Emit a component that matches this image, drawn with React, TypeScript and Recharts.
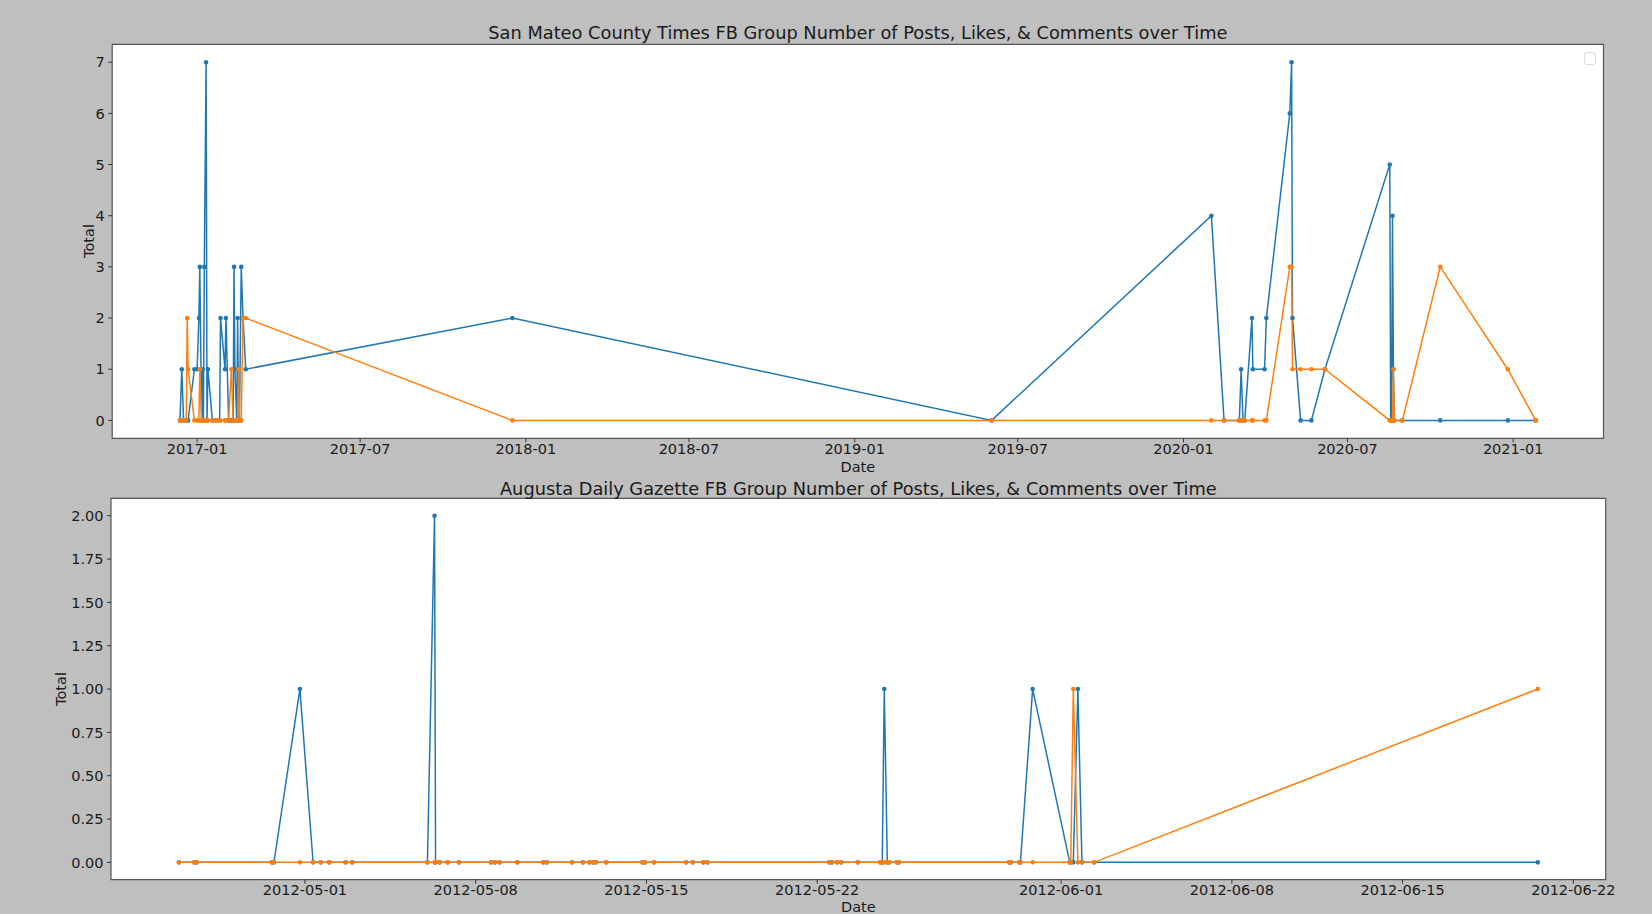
import React from "react";
import { LineChart, Line, XAxis, YAxis, ReferenceArea, Legend } from "recharts";

// San Mateo County Times (top panel)
const sanMateoDates = [
  "2016-12-13", "2016-12-15", "2016-12-17", "2016-12-20", "2016-12-21", "2016-12-22",
  "2016-12-29", "2017-01-01", "2017-01-03", "2017-01-04", "2017-01-06", "2017-01-07",
  "2017-01-08", "2017-01-09", "2017-01-11", "2017-01-12", "2017-01-13", "2017-01-18",
  "2017-01-22", "2017-01-26", "2017-01-27", "2017-02-01", "2017-02-02", "2017-02-05",
  "2017-02-08", "2017-02-10", "2017-02-11", "2017-02-12", "2017-02-14", "2017-02-15",
  "2017-02-16", "2017-02-17", "2017-02-19", "2017-02-21", "2017-02-24", "2017-12-17",
  "2019-06-02", "2020-02-01", "2020-02-15", "2020-03-03", "2020-03-05", "2020-03-07",
  "2020-03-09", "2020-03-17", "2020-03-18", "2020-03-31", "2020-04-02", "2020-04-28",
  "2020-04-30", "2020-05-01", "2020-05-10", "2020-05-22", "2020-06-06", "2020-08-17",
  "2020-08-18", "2020-08-19", "2020-08-20", "2020-08-21", "2020-08-22", "2020-08-31",
  "2020-10-12", "2020-12-26", "2021-01-26",
];
const sanMateoBlue = [
  0, 1, 0, 0, 0, 0,
  1, 1, 2, 3, 0, 1,
  0, 3, 7, 0, 1, 0,
  0, 0, 2, 1, 2, 0,
  0, 0, 3, 1, 0, 2,
  0, 0, 3, 2, 1, 2,
  0, 4, 0, 0, 1, 0,
  0, 2, 1, 1, 2, 6,
  7, 2, 0, 0, 1, 5,
  0, 0, 4, 1, 0, 0,
  0, 0, 0,
];
const sanMateoOrange = [
  0, 0, 0, 0, 2, 1,
  0, 0, 0, 1, 0, 0,
  0, 0, 0, 0, 0, 0,
  0, 0, 0, 0, 0, 0,
  1, 0, 0, 0, 0, 0,
  1, 0, 0, 2, 2, 0,
  0, 0, 0, 0, 0, 0,
  0, 0, 0, 0, 0, 3,
  3, 1, 1, 1, 1, 0,
  0, 0, 0, 1, 0, 0,
  3, 1, 0,
];
const sanMateoXTicks = [
  "2017-01-01", "2017-07-01", "2018-01-01", "2018-07-01", "2019-01-01",
  "2019-07-01", "2020-01-01", "2020-07-01", "2021-01-01",
];
const sanMateoYTicks = [0, 1, 2, 3, 4, 5, 6, 7];

// Augusta Daily Gazette (bottom panel)
const augustaDates = [
  "2012-04-25T20:00", "2012-04-26T11:00", "2012-04-26T13:30", "2012-04-29T15:30",
  "2012-04-29T17:30", "2012-04-30T19:00", "2012-05-01T08:00", "2012-05-01T15:30",
  "2012-05-02T00:00", "2012-05-02T16:00", "2012-05-02T22:30", "2012-05-06T00:30",
  "2012-05-06T07:30", "2012-05-06T08:30", "2012-05-06T12:30", "2012-05-06T20:30",
  "2012-05-07T07:30", "2012-05-08T15:00", "2012-05-08T19:00", "2012-05-08T23:30",
  "2012-05-09T17:00", "2012-05-10T18:30", "2012-05-10T22:00", "2012-05-11T23:00",
  "2012-05-12T09:30", "2012-05-12T16:00", "2012-05-12T19:30", "2012-05-12T22:00",
  "2012-05-13T08:30", "2012-05-14T20:00", "2012-05-14T22:30", "2012-05-15T07:30",
  "2012-05-16T15:00", "2012-05-16T21:30", "2012-05-17T08:00", "2012-05-17T12:00",
  "2012-05-22T12:00", "2012-05-22T14:30", "2012-05-22T19:30", "2012-05-22T23:30",
  "2012-05-23T16:00", "2012-05-24T14:00", "2012-05-24T16:00", "2012-05-24T18:00",
  "2012-05-24T21:00", "2012-05-24T23:00", "2012-05-25T06:30", "2012-05-25T08:30",
  "2012-05-29T21:00", "2012-05-29T22:30", "2012-05-30T07:00", "2012-05-30T08:00",
  "2012-05-30T20:00", "2012-06-01T08:30", "2012-06-01T09:30", "2012-06-01T12:00",
  "2012-06-01T16:30", "2012-06-01T20:30", "2012-06-02T08:30", "2012-06-20T13:00",
];
const augustaBlue = [
  0, 0, 0, 0,
  0, 1, 0, 0,
  0, 0, 0, 0,
  2, 0, 0, 0,
  0, 0, 0, 0,
  0, 0, 0, 0,
  0, 0, 0, 0,
  0, 0, 0, 0,
  0, 0, 0, 0,
  0, 0, 0, 0,
  0, 0, 0, 1,
  0, 0, 0, 0,
  0, 0, 0, 0,
  1, 0, 0, 0,
  1, 0, 0, 0,
];
const augustaOrange = [
  0, 0, 0, 0,
  0, 0, 0, 0,
  0, 0, 0, 0,
  0, 0, 0, 0,
  0, 0, 0, 0,
  0, 0, 0, 0,
  0, 0, 0, 0,
  0, 0, 0, 0,
  0, 0, 0, 0,
  0, 0, 0, 0,
  0, 0, 0, 0,
  0, 0, 0, 0,
  0, 0, 0, 0,
  0, 0, 0, 1,
  0, 0, 0, 1,
];
const augustaXTicks = [
  "2012-05-01", "2012-05-08", "2012-05-15", "2012-05-22",
  "2012-06-01", "2012-06-08", "2012-06-15", "2012-06-22",
];
const augustaYTicks = [0, 0.25, 0.5, 0.75, 1, 1.25, 1.5, 1.75, 2];

const BLUE = "#1f77b4";
const ORANGE = "#ff7f0e";
const FONT = "'DejaVu Sans', sans-serif";
const TEXT = "#1a1a1a";

const toMs = (s: string) => Date.parse(s.length > 10 ? s + ":00Z" : s + "T00:00:00Z");

// matplotlib style 5% margins around the data
function padded(values: number[]): [number, number] {
  const lo = Math.min(...values);
  const hi = Math.max(...values);
  const pad = (hi - lo) * 0.05;
  return [lo - pad, hi + pad];
}

interface PanelProps {
  top: number;
  height: number;
  plotTop: number;
  plotBottom: number;
  plotLeft: number;
  plotRight: number;
  title: string;
  dates: string[];
  blue: number[];
  orange: number[];
  xTicks: string[];
  yTicks: number[];
  xFormat: (v: number) => string;
  yFormat: (v: number) => string;
  yLabelX: number;
  xLabelY: number;
  titleY: number;
  legend?: boolean;
}

function Panel(p: PanelProps) {
  const data = p.dates.map((d, i) => ({ t: toMs(d), a: p.blue[i], b: p.orange[i] }));
  const xDomain = padded(data.map((d) => d.t));
  const yDomain = padded([...p.blue, ...p.orange]);
  const width = 1652;
  const cx = (p.plotLeft + p.plotRight) / 2;
  const cy = (p.plotTop + p.plotBottom) / 2;

  return (
    <>
      <div style={{ position: "absolute", left: 0, top: p.top, width, height: p.height }}>
        <LineChart
          width={width}
          height={p.height}
          data={data}
          margin={{ top: p.plotTop - p.top, right: width - p.plotRight, left: 0, bottom: 0 }}
        >
          <XAxis
            dataKey="t"
            type="number"
            scale="linear"
            domain={xDomain}
            allowDataOverflow
            ticks={p.xTicks.map(toMs)}
            tickFormatter={p.xFormat}
            height={p.top + p.height - p.plotBottom}
            axisLine={false}
            tickSize={4}
            tickMargin={1.5}
            tickLine={{ stroke: "#333" }}
            tick={{ fontSize: 14.5, fill: TEXT, fontFamily: FONT }}
          />
          <YAxis
            type="number"
            domain={yDomain}
            allowDataOverflow
            ticks={p.yTicks}
            tickFormatter={p.yFormat}
            width={p.plotLeft}
            axisLine={false}
            tickSize={4}
            tickMargin={3.5}
            tickLine={{ stroke: "#333" }}
            tick={{ fontSize: 14.5, fill: TEXT, fontFamily: FONT }}
          />
          <ReferenceArea
            x1={xDomain[0]}
            x2={xDomain[1]}
            y1={yDomain[0]}
            y2={yDomain[1]}
            fill="#ffffff"
            fillOpacity={1}
            stroke="#555"
            strokeWidth={1.2}
          />
          {p.legend && (
            <Legend
              verticalAlign="middle"
              align="center"
              wrapperStyle={{ left: 1584, top: 52 - (p.plotTop - 44.3), width: 13, height: 13 }}
              content={() => (
                <div
                  style={{
                    width: 12,
                    height: 13,
                    boxSizing: "border-box",
                    border: "1px solid #dcdcdc",
                    borderRadius: 3,
                    background: "#fff",
                  }}
                />
              )}
            />
          )}
          <Line
            dataKey="a"
            type="linear"
            stroke={BLUE}
            strokeWidth={1.5}
            dot={{ r: 2.3, fill: BLUE, stroke: "none" }}
            activeDot={false}
            isAnimationActive={false}
          />
          <Line
            dataKey="b"
            type="linear"
            stroke={ORANGE}
            strokeWidth={1.5}
            dot={{ r: 2.3, fill: ORANGE, stroke: "none" }}
            activeDot={false}
            isAnimationActive={false}
          />
        </LineChart>
      </div>
      <div
        style={{
          position: "absolute",
          left: cx,
          top: p.titleY,
          transform: "translate(-50%, -50%)",
          fontSize: 17.8,
          lineHeight: 1,
          whiteSpace: "nowrap",
          color: TEXT,
        }}
      >
        {p.title}
      </div>
      <div
        style={{
          position: "absolute",
          left: cx,
          top: p.xLabelY,
          transform: "translate(-50%, -50%)",
          fontSize: 14.5,
          lineHeight: 1,
          color: TEXT,
        }}
      >
        Date
      </div>
      <div
        style={{
          position: "absolute",
          left: p.yLabelX,
          top: cy,
          transform: "translate(-50%, -50%) rotate(-90deg)",
          fontSize: 14.5,
          lineHeight: 1,
          color: TEXT,
        }}
      >
        Total
      </div>
    </>
  );
}

const monthLabel = (v: number) => new Date(v).toISOString().slice(0, 7);
const dayLabel = (v: number) => new Date(v).toISOString().slice(0, 10);

export default function App() {
  return (
    <div
      style={{
        position: "absolute",
        left: 0,
        top: 0,
        width: 1652,
        height: 914,
        background: "#bfbfbf",
        fontFamily: FONT,
        overflow: "hidden",
      }}
    >
      <Panel
        top={0}
        height={480}
        plotTop={44.3}
        plotBottom={438.3}
        plotLeft={112.2}
        plotRight={1603.5}
        title="San Mateo County Times FB Group Number of Posts, Likes, & Comments over Time"
        dates={sanMateoDates}
        blue={sanMateoBlue}
        orange={sanMateoOrange}
        xTicks={sanMateoXTicks}
        yTicks={sanMateoYTicks}
        xFormat={monthLabel}
        yFormat={(v) => String(v)}
        yLabelX={88.5}
        xLabelY={466.7}
        titleY={32.7}
        legend
      />
      <Panel
        top={480}
        height={434}
        plotTop={498.4}
        plotBottom={879.7}
        plotLeft={111}
        plotRight={1605.7}
        title="Augusta Daily Gazette FB Group Number of Posts, Likes, & Comments over Time"
        dates={augustaDates}
        blue={augustaBlue}
        orange={augustaOrange}
        xTicks={augustaXTicks}
        yTicks={augustaYTicks}
        xFormat={dayLabel}
        yFormat={(v) => v.toFixed(2)}
        yLabelX={61}
        xLabelY={907}
        titleY={488.9}
      />
    </div>
  );
}
